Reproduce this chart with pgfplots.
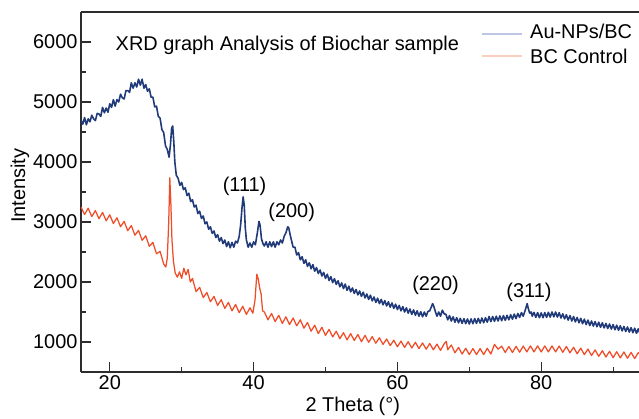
\documentclass[border=0pt]{standalone}
\usepackage{pgfplots}
\pgfplotsset{compat=1.18}
\usepackage{fontspec}
\setmainfont{Liberation Sans}
\newcommand\lbl{\fontsize{20}{24}\selectfont}
\definecolor{aublue}{RGB}{33,58,122}
\definecolor{bcred}{RGB}{240,76,40}
\definecolor{aupale}{RGB}{190,198,230}
\definecolor{bcpale}{RGB}{248,206,190}
\definecolor{axgray}{RGB}{45,45,45}

\begin{document}
\begin{tikzpicture}
\begin{axis}[
  width=558bp, height=360bp, scale only axis,
  xmin=16, xmax=93.6, ymin=500, ymax=6500,
  axis lines=left,
  axis line style={-, line width=1.3bp, axgray},
  tick style={line width=1.1bp, axgray},
  tick align=inside,
  major tick length=10bp, minor tick length=5bp,
  xtick={20,40,60,80}, minor xtick={30,50,70,90},
  ytick={1000,2000,3000,4000,5000,6000},
  minor ytick={1500,2500,3500,4500,5500},
  scaled y ticks=false,
  /pgf/number format/1000 sep={},
  /pgf/number format/assume math mode=true,
  tick label style={font=\lbl},
  xlabel={2 Theta (°)},
  ylabel={Intensity},
  label style={font=\lbl},
  xlabel style={at={(axis description cs:0.487,0)}, anchor=center, yshift=-34bp},
  ylabel style={at={(axis description cs:-0.1093,0.517)}, anchor=center},
  clip=true,
]

%% Au-NPs/BC trace
\addplot[aublue, line width=1.6bp, line join=round] coordinates {
(16.00,4700)(16.25,4630)(16.50,4740)(16.75,4620)(17.00,4720)(17.25,4670)(17.50,4780)(17.75,4720)
(18.00,4690)(18.25,4810)(18.50,4800)(18.75,4760)(19.00,4910)(19.25,4820)(19.50,4900)(19.75,4830)
(20.00,4970)(20.25,4910)(20.50,5040)(20.75,4930)(21.00,5040)(21.25,5000)(21.50,5130)(21.75,5070)
(22.00,5050)(22.25,5190)(22.50,5190)(22.75,5160)(23.00,5320)(23.25,5230)(23.50,5320)(23.75,5250)
(24.00,5380)(24.25,5280)(24.50,5380)(24.75,5230)(25.00,5290)(25.25,5180)(25.50,5220)(25.75,5080)
(26.00,5080)(26.25,4920)(26.50,4930)(26.75,4760)(27.00,4730)(27.25,4540)(27.50,4490)(27.75,4270)
(28.00,4210)(28.25,4080)(28.45,4300)(28.60,4560)(28.75,4600)(28.90,4350)(29.05,4000)(29.25,3780)
(29.50,3730)(29.75,3610)(30.00,3660)(30.25,3540)(30.50,3570)(30.75,3440)(31.00,3480)(31.25,3340)
(31.50,3370)(31.75,3250)(32.00,3280)(32.25,3140)(32.50,3180)(32.75,3060)(33.00,3100)(33.25,2970)
(33.50,3000)(33.75,2880)(34.00,2920)(34.25,2810)(34.50,2850)(34.75,2740)(35.00,2790)(35.25,2680)
(35.50,2740)(35.75,2640)(36.00,2700)(36.25,2590)(36.50,2670)(36.75,2570)(37.00,2660)(37.25,2580)
(37.50,2680)(37.75,2650)(38.00,2760)(38.20,2950)(38.40,3250)(38.55,3420)(38.70,3280)(38.85,2900)
(39.00,2700)(39.25,2580)(39.50,2650)(39.75,2580)(40.00,2670)(40.25,2620)(40.50,2800)(40.75,3010)
(40.90,2950)(41.10,2720)(41.30,2640)(41.50,2600)(41.75,2670)(42.00,2580)(42.25,2670)(42.50,2590)
(42.75,2670)(43.00,2580)(43.25,2670)(43.50,2620)(43.75,2700)(44.00,2650)(44.25,2760)(44.50,2820)
(44.75,2920)(44.90,2900)(45.10,2780)(45.30,2680)(45.50,2580)(45.75,2580)(46.00,2450)(46.25,2490)
(46.50,2370)(46.75,2420)(47.00,2310)(47.25,2370)(47.50,2260)(47.75,2320)(48.00,2220)(48.25,2290)
(48.50,2180)(48.75,2240)(49.00,2140)(49.25,2200)(49.50,2100)(49.75,2160)(50.00,2060)(50.25,2130)
(50.50,2025)(50.75,2090)(51.00,1990)(51.25,2055)(51.50,1960)(51.75,2020)(52.00,1920)(52.25,1985)
(52.50,1890)(52.75,1965)(53.00,1860)(53.25,1930)(53.50,1835)(53.75,1900)(54.00,1810)(54.25,1875)
(54.50,1785)(54.75,1850)(55.00,1760)(55.25,1830)(55.50,1735)(55.75,1800)(56.00,1710)(56.25,1780)
(56.50,1685)(56.75,1750)(57.00,1660)(57.25,1730)(57.50,1640)(57.75,1710)(58.00,1620)(58.25,1690)
(58.50,1600)(58.75,1670)(59.00,1580)(59.25,1650)(59.50,1560)(59.75,1630)(60.00,1540)(60.25,1610)
(60.50,1520)(60.75,1590)(61.00,1500)(61.25,1570)(61.50,1480)(61.75,1550)(62.00,1460)(62.25,1535)
(62.50,1445)(62.75,1520)(63.00,1430)(63.25,1505)(63.50,1420)(63.75,1500)(64.00,1430)(64.25,1510)
(64.50,1520)(64.70,1580)(64.90,1640)(65.10,1580)(65.30,1500)(65.50,1430)(65.75,1500)(66.00,1430)
(66.25,1530)(66.50,1470)(66.75,1460)(67.00,1370)(67.25,1440)(67.50,1350)(67.75,1420)(68.00,1330)
(68.25,1405)(68.50,1320)(68.75,1395)(69.00,1310)(69.25,1390)(69.50,1305)(69.75,1385)(70.00,1300)
(70.25,1385)(70.50,1305)(70.75,1390)(71.00,1310)(71.25,1395)(71.50,1315)(71.75,1400)(72.00,1320)
(72.25,1405)(72.50,1330)(72.75,1425)(73.00,1340)(73.25,1425)(73.50,1345)(73.75,1430)(74.00,1350)
(74.25,1435)(74.50,1355)(74.75,1440)(75.00,1360)(75.25,1445)(75.50,1370)(75.75,1455)(76.00,1380)
(76.25,1465)(76.50,1390)(76.75,1475)(77.00,1410)(77.25,1490)(77.50,1430)(77.75,1520)(77.90,1580)
(78.05,1640)(78.20,1560)(78.40,1480)(78.60,1500)(78.75,1430)(79.00,1495)(79.25,1410)(79.50,1490)
(79.75,1405)(80.00,1485)(80.25,1405)(80.50,1490)(80.75,1410)(81.00,1495)(81.25,1415)(81.50,1500)
(81.75,1420)(82.00,1500)(82.25,1415)(82.50,1490)(82.75,1400)(83.00,1470)(83.25,1385)(83.50,1455)
(83.75,1365)(84.00,1440)(84.25,1350)(84.50,1425)(84.75,1335)(85.00,1410)(85.25,1320)(85.50,1395)
(85.75,1305)(86.00,1380)(86.25,1290)(86.50,1365)(86.75,1275)(87.00,1350)(87.25,1265)(87.50,1340)
(87.75,1255)(88.00,1330)(88.25,1245)(88.50,1320)(88.75,1235)(89.00,1310)(89.25,1225)(89.50,1300)
(89.75,1215)(90.00,1290)(90.25,1205)(90.50,1280)(90.75,1195)(91.00,1270)(91.25,1185)(91.50,1260)
(91.75,1175)(92.00,1250)(92.25,1165)(92.50,1240)(92.75,1155)(93.00,1230)(93.25,1145)(93.50,1220)
(93.75,1135)
};

%% BC control trace
\addplot[bcred, line width=1.25bp, line join=round] coordinates {
(16.0,3250)(16.5,3125)(17.0,3230)(17.5,3090)(18.0,3190)(18.5,3055)(19.0,3160)(19.5,3020)
(20.0,3120)(20.5,2975)(21.0,3070)(21.5,2920)(22.0,3010)(22.5,2855)(23.0,2940)(23.5,2780)
(24.0,2860)(24.5,2695)(25.0,2770)(25.5,2595)(26.0,2660)(26.5,2470)(27.0,2510)(27.5,2300)
(27.8,2250)(28.0,2400)(28.2,3000)(28.35,3740)(28.5,3300)(28.65,2700)(28.85,2350)(29.1,2150)
(29.4,2080)(29.7,2170)(30.0,2060)(30.3,2230)(30.6,2120)(30.9,2210)(31.2,2000)(31.5,2060)
(32.0,1840)(32.5,1910)(33.0,1740)(33.5,1825)(34.0,1670)(34.5,1760)(35.0,1610)(35.5,1705)
(36.0,1560)(36.5,1660)(37.0,1520)(37.5,1625)(38.0,1490)(38.5,1595)(39.0,1460)(39.5,1570)
(39.9,1480)(40.2,1700)(40.45,2130)(40.65,2050)(40.85,1900)(41.05,1800)(41.25,1520)(41.5,1500)
(42.0,1370)(42.5,1475)(43.0,1340)(43.5,1445)(44.0,1310)(44.5,1420)(45.0,1290)(45.5,1400)
(46.0,1270)(46.5,1370)(47.0,1230)(47.5,1325)(48.0,1180)(48.5,1280)(49.0,1140)(49.5,1245)
(50.0,1110)(50.5,1210)(51.0,1085)(51.5,1180)(52.0,1055)(52.5,1155)(53.0,1035)(53.5,1140)
(54.0,1025)(54.5,1125)(55.0,1005)(55.5,1110)(56.0,995)(56.5,1090)(57.0,980)(57.5,1070)
(58.0,960)(58.5,1050)(59.0,940)(59.5,1030)(60.0,920)(60.5,1015)(61.0,910)(61.5,1005)
(62.0,900)(62.5,995)(63.0,890)(63.5,985)(64.0,880)(64.5,975)(65.0,870)(65.5,965)
(66.0,860)(66.5,970)(66.8,1010)(67.0,870)(67.5,950)(68.0,820)(68.5,910)(69.0,800)
(69.5,895)(70.0,790)(70.5,890)(71.0,790)(71.5,890)(72.0,790)(72.5,895)(73.0,800)
(73.5,960)(74.0,880)(74.5,930)(75.0,825)(75.5,925)(76.0,825)(76.5,928)(77.0,830)
(77.5,932)(78.0,835)(78.5,935)(79.0,835)(79.5,935)(80.0,835)(80.5,935)(81.0,835)
(81.5,935)(82.0,835)(82.5,932)(83.0,828)(83.5,925)(84.0,820)(84.5,912)(85.0,805)
(85.5,898)(86.0,790)(86.5,882)(87.0,775)(87.5,868)(88.0,760)(88.5,855)(89.0,750)
(89.5,845)(90.0,740)(90.5,838)(91.0,735)(91.5,833)(92.0,730)(92.5,827)(93.0,725)
(93.5,822)(94.0,770)
};

%% legend, drawn by hand so its sample lines can be pale as in the original
\draw[aupale, line width=1.4bp] (rel axis cs:0.7186,0.9389) -- (rel axis cs:0.7903,0.9389);
\draw[bcpale, line width=1.4bp] (rel axis cs:0.7186,0.8778) -- (rel axis cs:0.7903,0.8778);
\node[font=\lbl, anchor=base west, inner sep=0pt] at (rel axis cs:0.8047,0.925) {Au-NPs/BC};
\node[font=\lbl, anchor=base west, inner sep=0pt] at (rel axis cs:0.8047,0.8583) {BC Control};

\node[font=\lbl] at (axis cs:44.7,5950) {XRD graph Analysis of Biochar sample};
\node[font=\lbl] at (axis cs:38.75,3590) {(111)};
\node[font=\lbl] at (axis cs:45.3,3160) {(200)};
\node[font=\lbl] at (axis cs:65.3,1950) {(220)};
\node[font=\lbl] at (axis cs:78.3,1830) {(311)};
\draw[line width=1.3bp, axgray] (rel axis cs:0,1) -- (rel axis cs:1,1);
\end{axis}
\pgfresetboundingbox
\path (current axis.south west) ++(-81bp,-47bp) rectangle ([yshift=12bp]current axis.north east);
\end{tikzpicture}
\end{document}
